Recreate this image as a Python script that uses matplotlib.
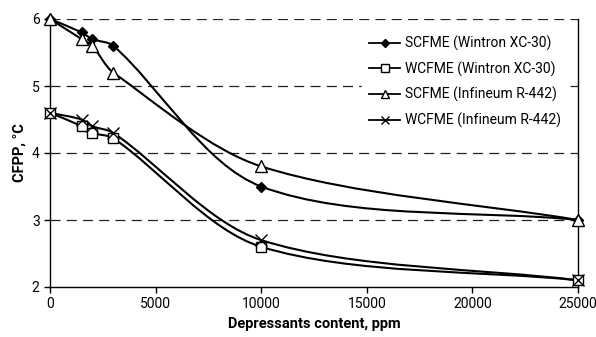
import numpy as np
import matplotlib
matplotlib.use("Agg")
import matplotlib.pyplot as plt
from matplotlib.path import Path
from matplotlib.patches import PathPatch
from matplotlib.lines import Line2D
from matplotlib import font_manager

names = {f.name for f in font_manager.fontManager.ttflist}
narrow = 'Liberation Sans Narrow' if 'Liberation Sans Narrow' in names else 'Roboto'
plt.rcParams['font.family'] = [narrow, 'DejaVu Sans']

# data
content = [0, 1500, 2000, 3000, 10000, 25000]
scfme_wintron = [6.0, 5.8, 5.7, 5.6, 3.5, 3.0]
wcfme_wintron = [4.6, 4.4, 4.3, 4.22, 2.6, 2.1]
scfme_infineum = [6.0, 5.7, 5.6, 5.2, 3.8, 3.0]
wcfme_infineum = [4.6, 4.5, 4.4, 4.3, 2.7, 2.1]
labels = ["SCFME (Wintron XC-30)", "WCFME (Wintron XC-30)",
          "SCFME (Infineum R-442)", "WCFME (Infineum R-442)"]
xticks = [0, 5000, 10000, 15000, 20000, 25000]
yticks = [2, 3, 4, 5, 6]


def smooth_path(ax, x, y, k=0.3):
    # smoothed line as cubic Bezier segments, tangents computed in display space
    pts = ax.transData.transform(np.c_[x, y])
    n = len(pts)
    tang = []
    for i in range(n):
        a = pts[max(i - 1, 0)]
        b = pts[min(i + 1, n - 1)]
        d = b - a
        tang.append(d / np.hypot(*d))
    verts = [pts[0]]
    codes = [Path.MOVETO]
    for i in range(n - 1):
        L = np.hypot(*(pts[i + 1] - pts[i]))
        c1 = pts[i] + tang[i] * L * k
        c2 = pts[i + 1] - tang[i + 1] * L * k
        verts += [c1, c2, pts[i + 1]]
        codes += [Path.CURVE4] * 3
    verts = ax.transData.inverted().transform(np.array(verts))
    return Path(verts, codes)


fig = plt.figure(figsize=(5.96, 3.37), dpi=100)
ax = fig.add_axes([50 / 596, 1 - 287 / 337, 528 / 596, 268 / 337])
ax.set_xlim(0, 25000)
ax.set_ylim(2, 6)

for yv in yticks[1:]:
    ax.axhline(yv, color='#222222', lw=0.9, ls=(0, (8, 5)), zorder=1)

series = [scfme_wintron, wcfme_wintron, scfme_infineum, wcfme_infineum]
styles = [dict(marker='D', ms=5, mfc='black', mec='black'),
          dict(marker='s', ms=7, mfc='white', mec='black'),
          dict(marker='^', ms=8, mfc='white', mec='black'),
          dict(marker='x', ms=8, mfc='none', mec='black', mew=1.0)]

handles = []
for ys, st, lab in zip(series, styles, labels):
    path = smooth_path(ax, content, ys)
    ax.add_patch(PathPatch(path, fc='none', ec='black', lw=1.5, zorder=3, clip_on=False))
    ax.plot(content, ys, ls='none', zorder=4, clip_on=False, **st)
    hs = dict(st)
    hs['ms'] = st['ms'] * 0.8
    handles.append(Line2D([], [], color='black', lw=1.3, **hs))

leg = ax.legend(handles, labels, loc='upper right', bbox_to_anchor=(0.995, 0.99),
                frameon=True, fancybox=False, edgecolor='white', framealpha=1,
                fontsize=10, handlelength=2.2, handletextpad=0.4, labelspacing=0.75,
                borderpad=0.5)
leg.set_zorder(5)

ax.set_xticks(xticks)
ax.set_yticks(yticks)
ax.tick_params(axis='both', labelsize=10, direction='out', length=4, width=1, colors='black')
ax.spines['top'].set_visible(False)
for s in ['left', 'right', 'bottom']:
    ax.spines[s].set_linewidth(1)
ax.set_xlabel("Depressants content, ppm", fontsize=10.5, fontweight='bold', labelpad=4)
ax.set_ylabel("CFPP, °C", fontsize=10.5, fontweight='bold', labelpad=4)

fig.savefig("out.png", dpi=100)
